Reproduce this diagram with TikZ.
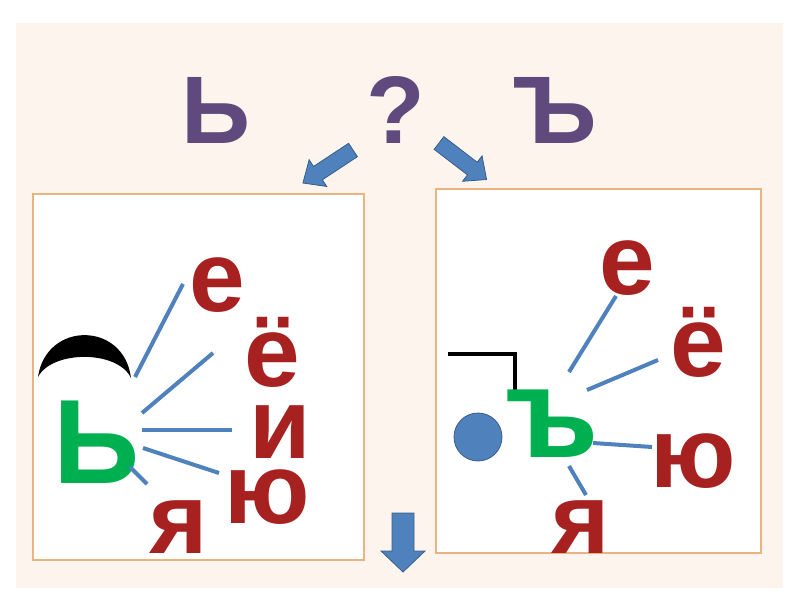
\documentclass[tikz,border=0pt]{standalone}
\usepackage{fontspec}
\setmainfont{Liberation Sans}
\definecolor{bgc}{RGB}{253,245,237}
\definecolor{boxc}{RGB}{233,180,128}
\definecolor{purp}{RGB}{96,73,124}
\definecolor{redc}{RGB}{166,33,31}
\definecolor{grn}{RGB}{0,176,80}
\definecolor{blu}{RGB}{79,129,189}
\definecolor{bludk}{RGB}{56,93,138}
\tikzset{
  purpl/.style={text=purp, inner sep=0pt, anchor=base, text height=69pt, text depth=0pt,
    font=\bfseries\fontsize{96}{96}\selectfont},
  redl/.style={text=redc, inner sep=0pt, anchor=base, text height=#1, text depth=0pt,
    font=\bfseries\fontsize{100}{100}\selectfont},
  redl/.default=54pt,
  grnl/.style 2 args={text=grn, inner sep=0pt, anchor=base, text height=#2, text depth=0pt,
    font=\bfseries\fontsize{#1}{#1}\selectfont},
  link/.style={draw=blu, line width=4pt},
  panel/.style={draw=boxc, line width=1.5pt, fill=white},
  blockarrow/.style={fill=blu, draw=bludk, line width=0.8pt, line join=miter},
}
\begin{document}
\begin{tikzpicture}[x=1pt,y=-1pt]
\useasboundingbox (0,0) rectangle (800,600);
\fill[white] (0,0) rectangle (800,600);
\fill[bgc] (16,23) rectangle (783,588);
% title letters
\node[purpl] (soft) at (216,143) {Ь};
\node[purpl] (q) at (396,143) {?};
\node[purpl] (hard) at (555,143) {Ъ};
% block arrows
\begin{scope}[shift={(353,150)}, rotate=213.4]
  \draw[blockarrow] (0,-8) -- (42,-8) -- (42,-16) -- (60,0) -- (42,16) -- (42,8) -- (0,8) -- cycle;
\end{scope}
\begin{scope}[shift={(439,143)}, rotate=-37.5]
  \draw[blockarrow] (0,-8) -- (42,-8) -- (42,-16) -- (60,0) -- (42,16) -- (42,8) -- (0,8) -- cycle;
\end{scope}
\begin{scope}[shift={(403,513)}, rotate=-90]
  \draw[blockarrow] (0,-11) -- (38,-11) -- (38,-22) -- (59,0) -- (38,22) -- (38,11) -- (0,11) -- cycle;
\end{scope}
% panels
\draw[panel] (33,194) rectangle (364,560);
\draw[panel] (436,189) rectangle (761,553);
% left panel
\fill[black] (38,377) .. controls (46,321) and (124,321) .. (131,378)
             .. controls (118,350) and (52,350) .. cycle;
\node[grnl={120}{86pt}] (sl) at (97,483) {Ь};
\node[redl] (le) at (217,311) {е};
\node[redl=75pt] (lyo) at (272,386) {ё};
\node[redl] (li) at (280,458) {и};
\node[redl] (lyu) at (267,523) {ю};
\node[redl] (lya) at (179,553) {я};
\draw[link] (135,377) -- (183,284);
\draw[link] (142,413) -- (213,353);
\draw[link] (142,430) -- (232,430);
\draw[link] (143,448) -- (219,473);
\draw[link] (130,467) -- (147,484);
% right panel
\draw[black, line width=4pt, line join=miter] (448,354) -- (515,354) -- (515,396);
\draw[fill=blu, draw=bludk, line width=0.8pt] (478,437) circle[radius=24];
\node[grnl={128}{67pt}] (hl) at (552,457) {ъ};
\node[redl] (re) at (627,294) {е};
\node[redl=75pt] (ryo) at (698,376) {ё};
\node[redl] (ryu) at (693,487) {ю};
\node[redl] (rya) at (581,553) {я};
\draw[link] (569,372) -- (616,296);
\draw[link] (587,390) -- (658,360);
\draw[link] (593,443) -- (652,447);
\draw[link] (569,466) -- (586,495);
\end{tikzpicture}
\end{document}
